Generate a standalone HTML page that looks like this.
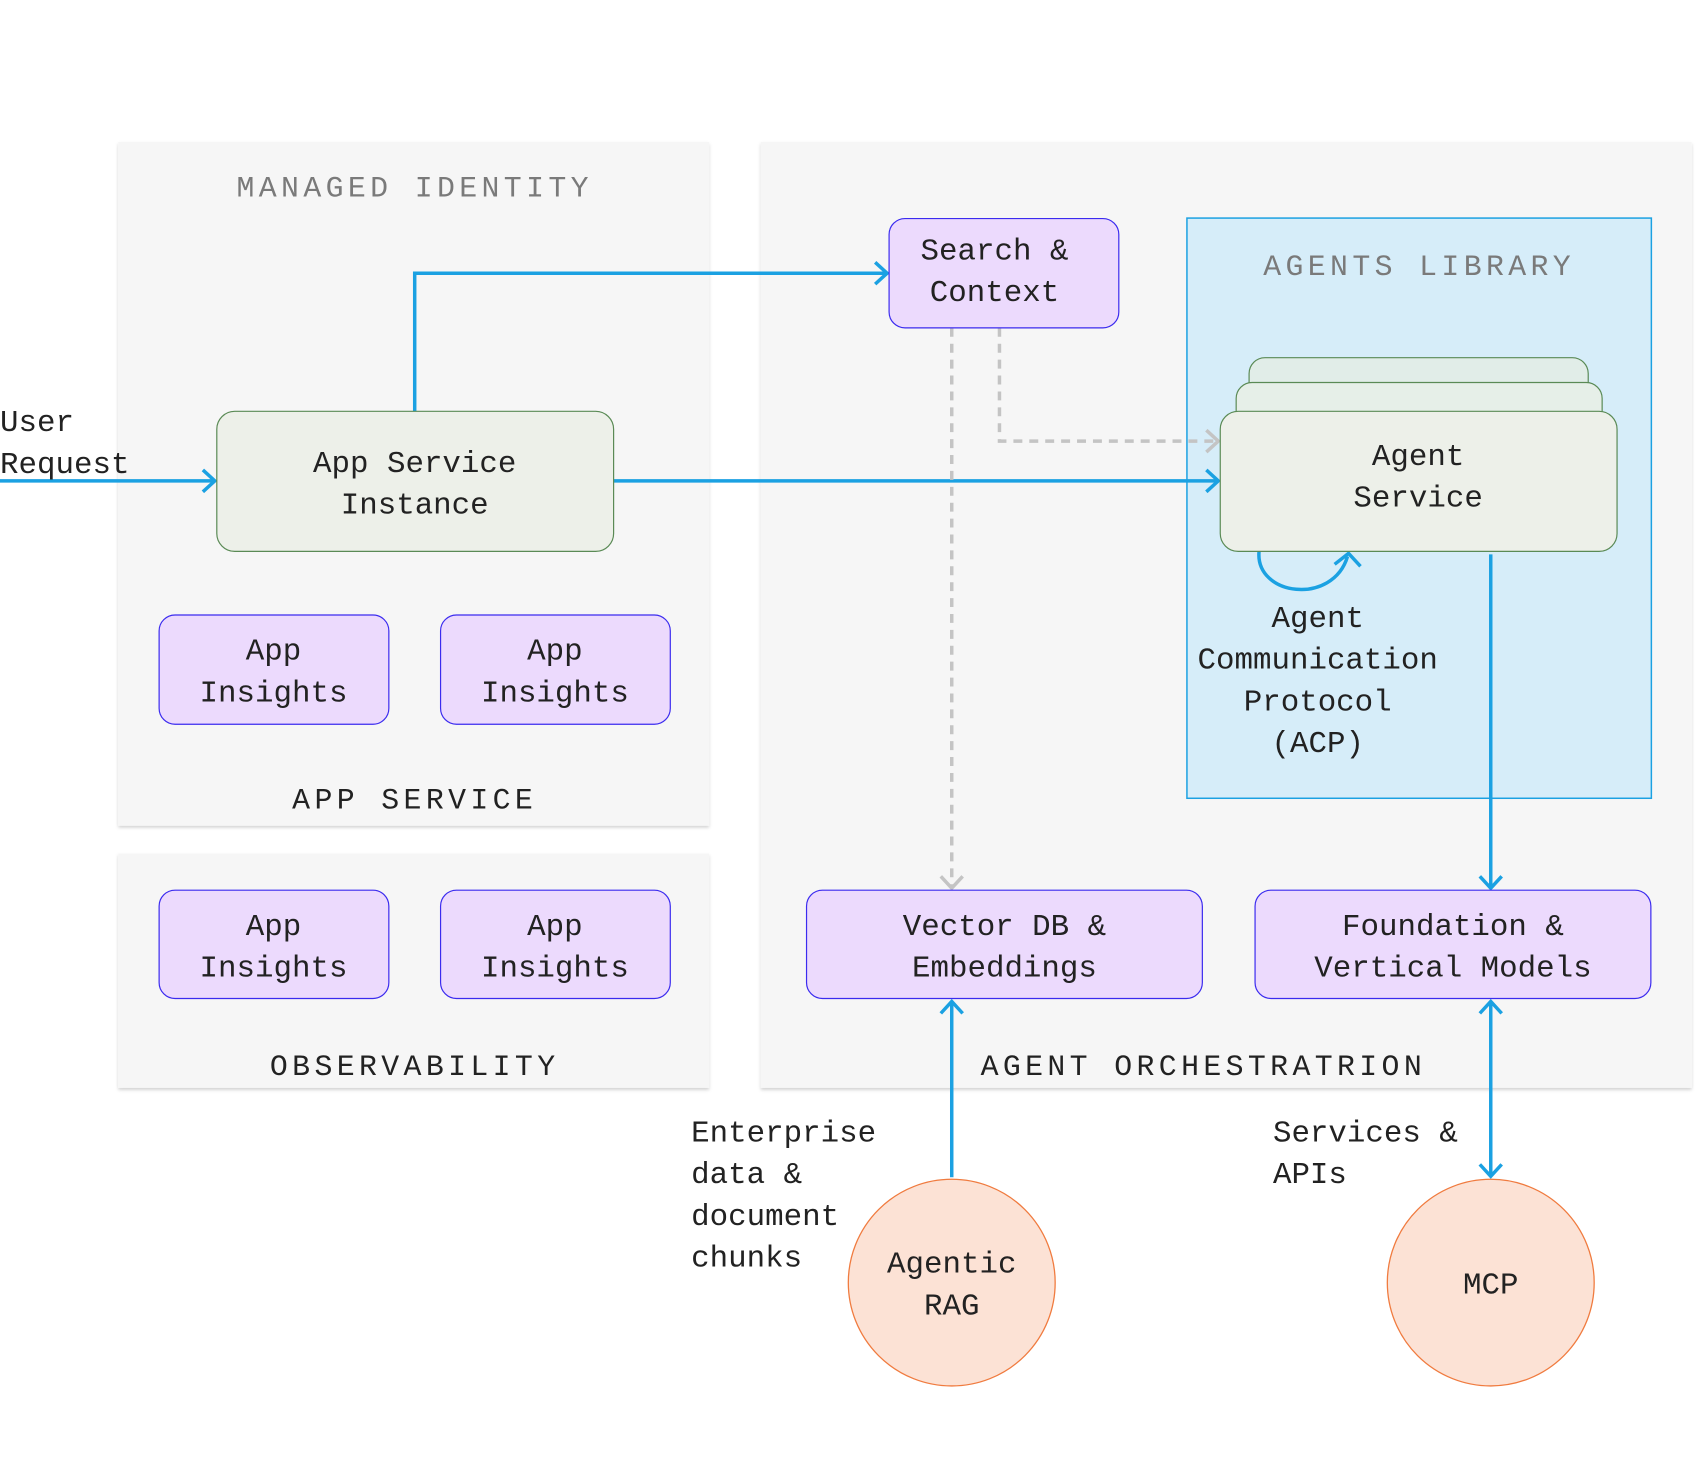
<!DOCTYPE html>
<html><head><meta charset="utf-8"><style>
html,body{margin:0;padding:0;background:#fff;}
svg{display:block;}
text{font-family:"Liberation Mono","DejaVu Sans Mono",monospace;fill:#222;}
.b{font-size:31px;}
.t{font-size:30px;letter-spacing:4.4px;}
</style></head><body>
<svg width="1706" height="1482" viewBox="0 0 1706 1482" xmlns="http://www.w3.org/2000/svg">
<defs>
<filter id="sh" x="-5%" y="-5%" width="110%" height="110%"><feDropShadow dx="0" dy="2" stdDeviation="1.5" flood-color="#000" flood-opacity="0.18"/></filter>
</defs>
<g transform="scale(0.9945 0.9935)">
<!-- panels -->
<rect x="119" y="143" width="594" height="688" fill="#f6f6f6" filter="url(#sh)"/>
<rect x="119" y="859" width="594" height="236" fill="#f6f6f6" filter="url(#sh)"/>
<rect x="765" y="143" width="936" height="952" fill="#f6f6f6" filter="url(#sh)"/>
<rect x="1193.5" y="219.5" width="467" height="584" fill="#d6edf9" stroke="#1ba1e2" stroke-width="1.5"/>

<text class="t" x="417" y="198" text-anchor="middle" style="fill:#7a7a7a">MANAGED IDENTITY</text>
<text class="t" x="1427" y="277" text-anchor="middle" style="fill:#7a7a7a">AGENTS LIBRARY</text>
<text class="t" x="417" y="814" text-anchor="middle">APP SERVICE</text>
<text class="t" x="417" y="1082" text-anchor="middle">OBSERVABILITY</text>
<text class="t" x="1210" y="1082" text-anchor="middle">AGENT ORCHESTRATRION</text>

<!-- connectors -->
<g fill="none" stroke="#1ba1e2" stroke-width="3.5">
<path d="M417 414 V275 H892"/>
<path d="M880 264 L892 275 L880 286"/>
<path d="M0 484 H216"/>
<path d="M204 473 L216 484 L204 495"/>
<path d="M617 484 H1225"/>
<path d="M1213 473 L1225 484 L1213 495"/>
<path d="M1499 558 V894"/>
<path d="M1488 882 L1499 894 L1510 882"/>
<path d="M957 1185 V1008"/>
<path d="M946 1020 L957 1008 L968 1020"/>
<path d="M1499 1008 V1184"/>
<path d="M1488 1020 L1499 1008 L1510 1020"/>
<path d="M1488 1172 L1499 1184 L1510 1172"/>
<path d="M1266 555 C1262 600 1340 610 1355 560"/>
<path d="M1342 568 L1356 557 L1368 570"/>
</g>
<g fill="none" stroke="#c4c4c4" stroke-width="3.5" stroke-dasharray="9 7">
<path d="M957 330 V894"/>
<path d="M1005 330 V444 H1224"/>
</g>
<g fill="none" stroke="#c4c4c4" stroke-width="3.5">
<path d="M946 882 L957 894 L968 882"/>
<path d="M1213 433 L1225 444 L1213 455"/>
</g>

<!-- nodes -->
<rect x="218" y="414" width="399" height="141" rx="18" fill="#edf0e9" stroke="#5a8a55" stroke-width="1.2"/>
<text class="b" x="417" y="475" text-anchor="middle">App Service</text>
<text class="b" x="417" y="517" text-anchor="middle">Instance</text>

<g fill="#ecdafd" stroke="#3b2bef" stroke-width="1.2">
<rect x="160" y="619" width="231" height="110" rx="16"/>
<rect x="443" y="619" width="231" height="110" rx="16"/>
<rect x="160" y="896" width="231" height="109" rx="16"/>
<rect x="443" y="896" width="231" height="109" rx="16"/>
<rect x="894" y="220" width="231" height="110" rx="16"/>
<rect x="811" y="896" width="398" height="109" rx="16"/>
<rect x="1262" y="896" width="398" height="109" rx="16"/>
</g>
<text class="b" x="275" y="664" text-anchor="middle">App</text>
<text class="b" x="275" y="706" text-anchor="middle">Insights</text>
<text class="b" x="558" y="664" text-anchor="middle">App</text>
<text class="b" x="558" y="706" text-anchor="middle">Insights</text>
<text class="b" x="275" y="941" text-anchor="middle">App</text>
<text class="b" x="275" y="983" text-anchor="middle">Insights</text>
<text class="b" x="558" y="941" text-anchor="middle">App</text>
<text class="b" x="558" y="983" text-anchor="middle">Insights</text>
<text class="b" x="1000" y="261" text-anchor="middle">Search &amp;</text>
<text class="b" x="1000" y="303" text-anchor="middle">Context</text>
<text class="b" x="1010" y="941" text-anchor="middle">Vector DB &amp;</text>
<text class="b" x="1010" y="983" text-anchor="middle">Embeddings</text>
<text class="b" x="1461" y="941" text-anchor="middle">Foundation &amp;</text>
<text class="b" x="1461" y="983" text-anchor="middle">Vertical Models</text>

<rect x="1256" y="360" width="341" height="120" rx="16" fill="#e1ede8" stroke="#5a8a55" stroke-width="1.2"/>
<rect x="1243" y="385" width="368" height="120" rx="16" fill="#e6efe8" stroke="#5a8a55" stroke-width="1.2"/>
<rect x="1227" y="414" width="399" height="141" rx="18" fill="#edf0e9" stroke="#5a8a55" stroke-width="1.2"/>
<text class="b" x="1426" y="468" text-anchor="middle">Agent</text>
<text class="b" x="1426" y="510" text-anchor="middle">Service</text>

<text class="b" x="1325" y="631" text-anchor="middle">Agent</text>
<text class="b" x="1325" y="673" text-anchor="middle">Communication</text>
<text class="b" x="1325" y="715" text-anchor="middle">Protocol</text>
<text class="b" x="1325" y="757" text-anchor="middle">(ACP)</text>

<text class="b" x="0" y="434">User</text>
<text class="b" x="0" y="476">Request</text>

<text class="b" x="695" y="1149">Enterprise</text>
<text class="b" x="695" y="1191">data &amp;</text>
<text class="b" x="695" y="1233">document</text>
<text class="b" x="695" y="1275">chunks</text>
<text class="b" x="1280" y="1149">Services &amp;</text>
<text class="b" x="1280" y="1191">APIs</text>

<circle cx="957" cy="1291" r="104" fill="#fce2d5" stroke="#f07b3f" stroke-width="1.3"/>
<circle cx="1499" cy="1291" r="104" fill="#fce2d5" stroke="#f07b3f" stroke-width="1.3"/>
<text class="b" x="957" y="1281" text-anchor="middle">Agentic</text>
<text class="b" x="957" y="1323" text-anchor="middle">RAG</text>
<text class="b" x="1499" y="1302" text-anchor="middle">MCP</text>
</g>
</svg>
</body></html>
